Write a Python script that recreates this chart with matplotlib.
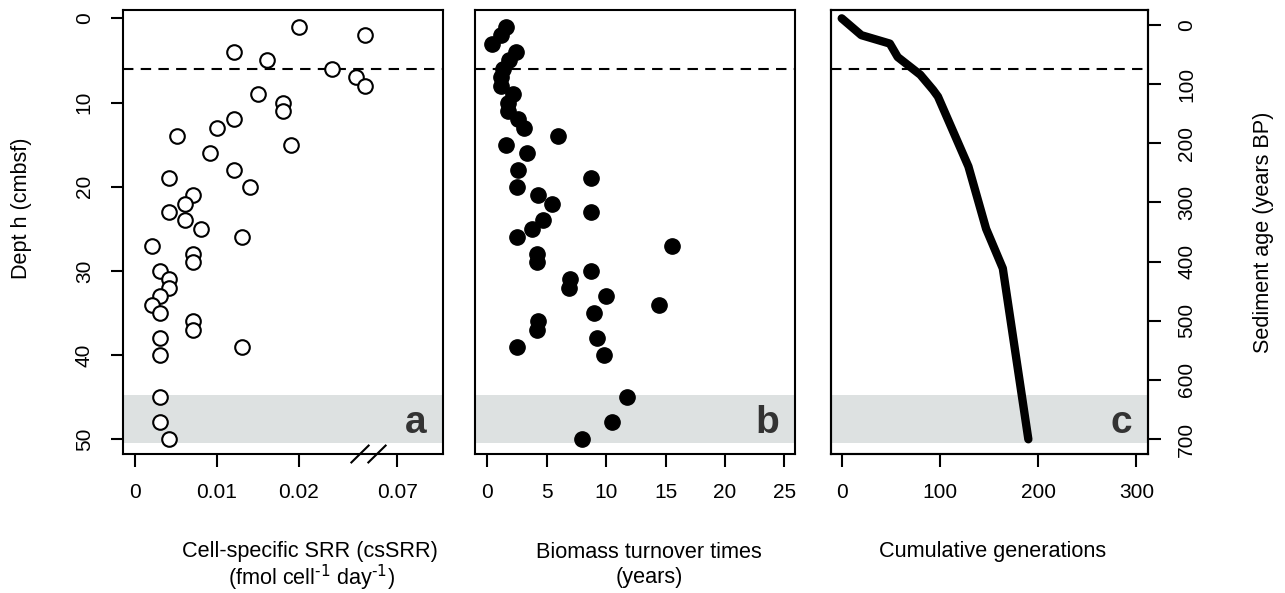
import numpy as np
import matplotlib.pyplot as plt
from matplotlib import transforms

plt.rcParams['font.family'] = ['Liberation Sans', 'DejaVu Sans']
plt.rcParams['mathtext.default'] = 'regular'

# panel a: cell-specific SRR (fmol cell-1 day-1) vs depth (cmbsf)
depth_a = [1, 2, 4, 5, 6, 7, 8, 9, 10, 11, 12, 13, 14, 15, 16, 18, 19, 20, 21,
           22, 23, 24, 25, 26, 27, 28, 29, 30, 31, 32, 33, 34, 35, 36, 37, 38,
           39, 40, 45, 48, 50]
cssrr = [0.0200, 0.066, 0.0121, 0.0161, 0.0240, 0.065, 0.066, 0.0150, 0.0181,
         0.0181, 0.0121, 0.0100, 0.0051, 0.0190, 0.0091, 0.0121, 0.0041, 0.0140,
         0.0071, 0.0061, 0.0041, 0.0061, 0.0080, 0.0131, 0.0021, 0.0071, 0.0071,
         0.0030, 0.0041, 0.0041, 0.0030, 0.0021, 0.0030, 0.0071, 0.0071, 0.0030,
         0.0131, 0.0030, 0.0030, 0.0030, 0.0041]

# panel b: biomass turnover times (years)
depth_b = [1, 2, 3, 4, 5, 6, 7, 8, 9, 10, 11, 12, 13, 14, 15, 16, 18, 19, 20,
           21, 22, 23, 24, 25, 26, 27, 28, 29, 30, 31, 32, 33, 34, 35, 36, 37,
           38, 39, 40, 45, 48, 50]
turnover = [1.58, 1.13, 0.42, 2.42, 1.85, 1.3, 1.13, 1.13, 2.14, 1.72, 1.72,
            2.61, 3.12, 5.98, 1.58, 3.32, 2.61, 8.71, 2.47, 4.3, 5.42, 8.71,
            4.72, 3.74, 2.47, 15.53, 4.16, 4.16, 8.71, 6.97, 6.88, 10.0, 14.41,
            8.99, 4.3, 4.16, 9.27, 2.47, 9.86, 11.74, 10.48, 8.0]

# panel c: cumulative generations
depth_c = [0, 2, 3, 4.6, 6.7, 8.5, 9.3, 17.6, 25, 29.7, 50]
generations = [0, 20, 49, 57, 80, 93, 98, 129, 147, 164, 190]

bioturb_depth = 6          # dashed line
band = (44.7, 50.5)        # grey zone
break_shift = 0.038        # x-axis break in panel a (0.07 -> 0.032)

fig = plt.figure(figsize=(12.85, 5.93), dpi=100)
W, H = 1285.0, 593.0
bottom = (H - 454) / H
height = 444 / H
ax1 = fig.add_axes([123 / W, bottom, 320 / W, height])
ax2 = fig.add_axes([475 / W, bottom, 320 / W, height])
ax3 = fig.add_axes([831 / W, bottom, 317 / W, height])

fs = 15
lfs = 15.6
for ax in [ax1, ax2, ax3]:
    ax.axhspan(band[0], band[1], color='#dde1e1', lw=0, zorder=0)
    ax.axhline(bioturb_depth, color='black', lw=1.5, ls=(0, (5, 3.5)), zorder=1)
    ax.set_ylim(51.75, -0.99)
    for s in ax.spines.values():
        s.set_linewidth(1.5)
    ax.tick_params(axis='x', length=9, width=1.5, pad=12, labelsize=fs)

# a
xa = [v - break_shift if v > 0.04 else v for v in cssrr]
ax1.plot(xa, depth_a, 'o', ms=10.5, mfc='white', mec='black', mew=1.5,
         zorder=3)
ax1.set_xlim(-0.00146, 0.03756)
ax1.set_xticks([0, 0.01, 0.02, 0.07 - break_shift])
ax1.set_xticklabels(['0', '0.01', '0.02', '0.07'])
ax1.set_yticks(np.arange(0, 51, 10))
ax1.tick_params(axis='y', length=9, width=1.5, pad=12, labelsize=fs,
                labelrotation=90)
plt.setp(ax1.get_yticklabels(), va='center')
# break marks on the x axis
tr = transforms.blended_transform_factory(ax1.transData, ax1.transAxes)
for xc in [0.02744, 0.02951]:
    ax1.plot([xc - 0.00105, xc + 0.00105], [-0.019, 0.019], color='black',
             lw=1.5, transform=tr, clip_on=False, zorder=5)

# b
ax2.plot(turnover, depth_b, 'o', ms=11, mfc='black', mec='black', zorder=3)
ax2.set_xlim(-1.04, 25.9)
ax2.set_xticks([0, 5, 10, 15, 20, 25])
ax2.set_yticks([])

# c
ax3.plot(generations, depth_c, color='black', lw=6, solid_capstyle='round',
         solid_joinstyle='round', zorder=3)
ax3.set_xlim(-10.9, 311.8)
ax3.set_xticks([0, 100, 200, 300])
ax3.set_yticks([])
ax4 = ax3.twinx()
ax4.set_ylim(725.4, -25.4)
ax4.set_yticks(np.arange(0, 701, 100))
ax4.tick_params(axis='y', length=9, width=1.5, pad=12, labelsize=fs,
                labelrotation=90)
plt.setp(ax4.get_yticklabels(), va='center')
for s in ax4.spines.values():
    s.set_linewidth(1.5)

for ax, lab in zip([ax1, ax2, ax3], ['a', 'b', 'c']):
    ax.text(0.95, 0.047, lab, transform=ax.transAxes, ha='right',
            va='baseline', fontsize=28, fontweight='bold', color='#333333',
            zorder=4)

# axis titles
fig.text(310 / W, 1 - 552 / H, 'Cell-specific SRR (csSRR)', ha='center',
         va='center', fontsize=lfs)
fig.text(312 / W, 1 - 578 / H, r'(fmol cell$^{\text{-1}}$ day$^{\text{-1}}$)',
         ha='center', va='center', fontsize=lfs)
fig.text(649 / W, 1 - 552 / H, 'Biomass turnover times', ha='center',
         va='center', fontsize=lfs)
fig.text(649 / W, 1 - 578 / H, '(years)', ha='center', va='center',
         fontsize=lfs)
fig.text(993 / W, 1 - 552 / H, 'Cumulative generations', ha='center',
         va='center', fontsize=lfs)
fig.text(22 / W, 1 - 208 / H, 'Dept h (cmbsf)', rotation=90, ha='center',
         va='center', fontsize=lfs)
fig.text(1263 / W, 1 - 232 / H, 'Sediment age (years BP)', rotation=90,
         ha='center', va='center', fontsize=lfs)

fig.savefig('out.png', dpi=100)
